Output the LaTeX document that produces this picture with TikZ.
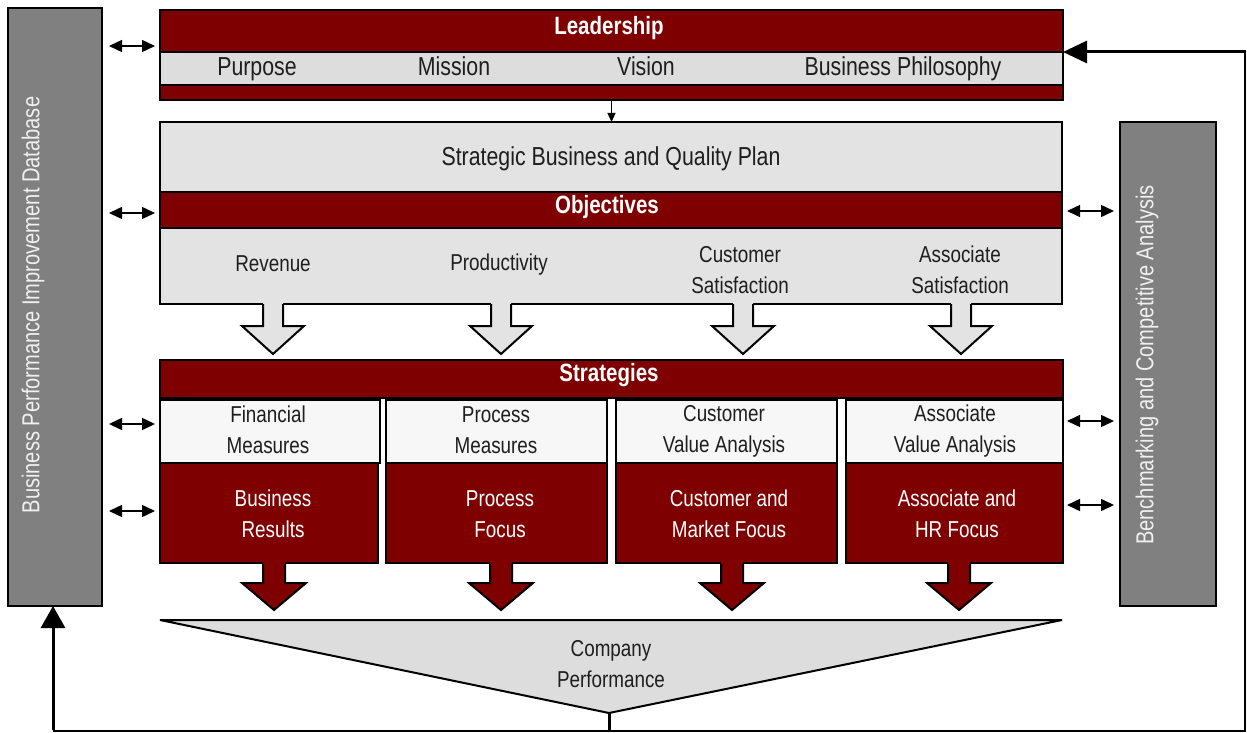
\documentclass[tikz,border=0pt]{standalone}
\usepackage{fontspec}
\setmainfont{Liberation Sans}[FakeStretch=0.82]
\usetikzlibrary{arrows.meta,calc}
\definecolor{dred}{HTML}{7F0000}
\definecolor{rowgray}{HTML}{DDDDDD}
\definecolor{lgray}{HTML}{E3E3E3}
\definecolor{mwhite}{HTML}{F7F7F7}
\definecolor{midgray}{HTML}{808080}
\definecolor{txtc}{HTML}{1E1E1E}
\begin{document}
\begin{tikzpicture}[x=1pt,y=-1pt,
  box/.style={draw=black, line width=2pt, anchor=north west, inner sep=0pt, outer sep=0pt},
  redbox/.style={box, fill=dred},
  rowbox/.style={box, fill=rowgray},
  lbox/.style={box, fill=lgray},
  wbox/.style={box, fill=mwhite},
  graybox/.style={box, fill=midgray},
  txt/.style={font=\fontsize{23}{31}\selectfont, text=txtc, align=center, inner sep=0pt},
  bigtxt/.style={font=\fontsize{26}{31}\selectfont, text=txtc, align=center, inner sep=0pt, anchor=base},
  wtxt/.style={font=\fontsize{23}{31}\selectfont, text=white, align=center, inner sep=0pt},
  head/.style={font=\bfseries\fontsize{25}{30}\selectfont, text=white, inner sep=0pt},
  side/.style={font=\fontsize{24.5}{30}\selectfont, text=white!94!black, inner sep=0pt, rotate=90},
  dbl/.style={{Triangle[length=13pt,width=12pt]}-{Triangle[length=13pt,width=12pt]}, line width=1.5pt},
  fb/.style={line width=3pt},
]
\useasboundingbox (0,0) rectangle (1247,733);

% side boxes
\node[graybox, minimum width=94, minimum height=598] (db) at (8,8) {};
\node[side] (dbt) at (33,305) {Business Performance Improvement Database};
\node[graybox, minimum width=96, minimum height=484] (bench) at (1120,122) {};
\node[side] (bencht) at (1147,365) {Benchmarking and Competitive Analysis};

% leadership block
\node[redbox, minimum width=903, minimum height=42] (lead) at (160,10) {};
\node[rowbox, minimum width=903, minimum height=33] (leadrow) at (160,52) {};
\node[redbox, minimum width=903, minimum height=15] (leadbot) at (160,85) {};
\node[head] (leadt) at (609,28) {Leadership};
\node[bigtxt] (p1) at (257,76) {Purpose};
\node[bigtxt] (p2) at (454,76) {Mission};
\node[bigtxt] (p3) at (646,76) {Vision};
\node[bigtxt] (p4) at (903,76) {Business Philosophy};

% strategic block
\node[lbox, minimum width=902, minimum height=70] (sbqp) at (160,122) {};
\node[redbox, minimum width=902, minimum height=36] (obj) at (160,192) {};
\node[lbox, minimum width=902, minimum height=76] (objrow) at (160,228) {};
\node[bigtxt] (sbqpt) at (611,165) {Strategic Business and Quality Plan};
\node[head] (objt) at (607,207) {Objectives};
\node[txt, anchor=base] (o1) at (273,271) {Revenue};
\node[txt, anchor=base] (o2) at (499,270) {Productivity};
\node[txt] (o3) at (740,270) {Customer\\Satisfaction};
\node[txt] (o4) at (960,270) {Associate\\Satisfaction};

\draw[line width=1pt, -{Triangle[length=9pt,width=8pt]}] (leadbot.south) -- (leadbot.south |- sbqp.north);

% hollow arrows
\foreach \c in {273,501,743,961} {
  \fill[lgray] (\c-10,302) -- (\c-10,326) -- (\c-31,326) -- (\c,354) -- (\c+31,326) -- (\c+10,326) -- (\c+10,302) -- cycle;
  \draw[line width=2pt, miter limit=20] (\c-10,304) -- (\c-10,326) -- (\c-31,326) -- (\c,354) -- (\c+31,326) -- (\c+10,326) -- (\c+10,304);
}

% strategies block
\node[redbox, minimum width=903, minimum height=38] (strat) at (160,360) {};
\node[head] (stratt) at (609,375) {Strategies};
\node[wbox, minimum width=220, minimum height=63] (m1) at (160,400) {};
\node[wbox, minimum width=221, minimum height=63] (m2) at (386,400) {};
\node[wbox, minimum width=221, minimum height=63] (m3) at (616,400) {};
\node[wbox, minimum width=217, minimum height=63] (m4) at (846,400) {};
\node[redbox, minimum width=218, minimum height=100] (r1) at (160,463) {};
\node[redbox, minimum width=221, minimum height=100] (r2) at (386,463) {};
\node[redbox, minimum width=221, minimum height=100] (r3) at (616,463) {};
\node[redbox, minimum width=217, minimum height=100] (r4) at (846,463) {};
\node[txt] (m1t) at (268,430) {Financial\\Measures};
\node[txt] (m2t) at (496,430) {Process\\Measures};
\node[txt] (m3t) at (724,431) {Customer\\Value Analysis};
\node[txt] (m4t) at (955,431) {Associate\\Value Analysis};
\node[wtxt] (r1t) at (273,514) {Business\\Results};
\node[wtxt] (r2t) at (500,514) {Process\\Focus};
\node[wtxt] (r3t) at (729,514) {Customer and\\Market Focus};
\node[wtxt] (r4t) at (957,514) {Associate and\\HR Focus};

% red arrows
\foreach \c in {274,501,732,959} {
  \fill[dred] (\c-11,561) -- (\c-11,583) -- (\c-32,583) -- (\c,610) -- (\c+32,583) -- (\c+11,583) -- (\c+11,561) -- cycle;
  \draw[line width=2pt, miter limit=20] (\c-11,564) -- (\c-11,583) -- (\c-32,583) -- (\c,610) -- (\c+32,583) -- (\c+11,583) -- (\c+11,564);
}

% company performance
\coordinate (apex) at (609,713);
\draw[line width=2pt, fill=rowgray, line join=bevel] (160,620) -- (1062,620) -- (apex) -- cycle;
\node[txt] (cp) at (611,664) {Company\\Performance};

% feedback loops
\coordinate (apexdown) at (609,731);
\coordinate (bl) at (53,731);
\coordinate (br) at (1245,731);
\coordinate (tr) at (1245,52);
\draw[fb] (apex) -- (apexdown);
\draw[line width=1.5pt] (bl) -- (br) -- (tr);
\draw[fb, -{Triangle[length=22pt,width=24pt]}] ([yshift=0.75pt]bl) -- (bl |- db.south);
\draw[fb, -{Triangle[length=24pt,width=22pt]}] ([xshift=0.75pt]tr) -- (tr -| leadrow.east);

% left double arrows
\coordinate (L1) at (155,46);
\coordinate (L2) at (155,213);
\coordinate (L3) at (155,424);
\coordinate (L4) at (155,511);
\foreach \p in {L1,L2,L3,L4} {
  \draw[dbl, shorten <=7pt] (db.east |- \p) -- (\p);
}
% right double arrows
\coordinate (R1) at (1067,211);
\coordinate (R2) at (1067,421);
\coordinate (R3) at (1067,505);
\foreach \p in {R1,R2,R3} {
  \draw[dbl, shorten >=6pt] (\p) -- (bench.west |- \p);
}
\end{tikzpicture}
\end{document}
